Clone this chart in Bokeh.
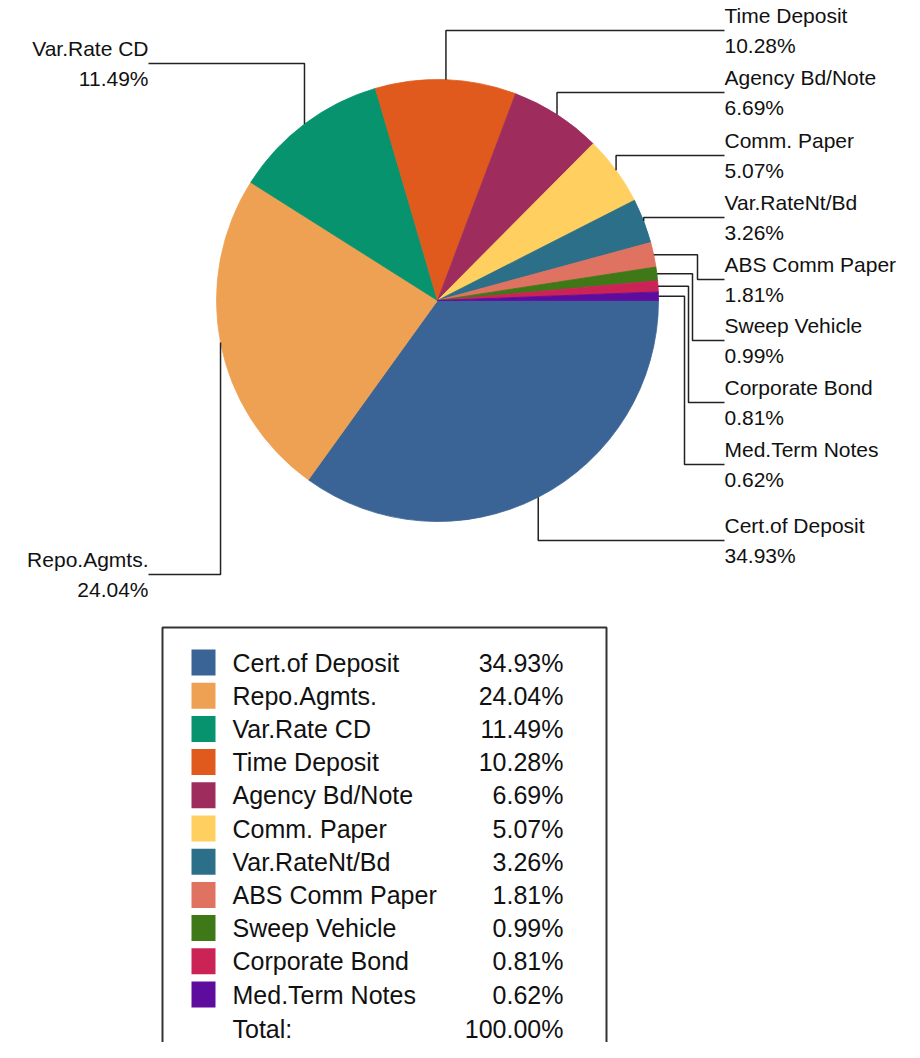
import numpy as np
from bokeh.plotting import figure
from bokeh.models import Range1d, ColumnDataSource
from bokeh.core.properties import value
from bokeh.embed import file_html
from bokeh.resources import INLINE

# ---- data ----
categories = ["Cert.of Deposit", "Repo.Agmts.", "Var.Rate CD", "Time Deposit",
              "Agency Bd/Note", "Comm. Paper", "Var.RateNt/Bd", "ABS Comm Paper",
              "Sweep Vehicle", "Corporate Bond", "Med.Term Notes"]
percents = [34.93, 24.04, 11.49, 10.28, 6.69, 5.07, 3.26, 1.81, 0.99, 0.81, 0.62]
colors = ["#3B6496", "#EFA153", "#07936E", "#E05A1D", "#9E2D5E", "#FFCF5F",
          "#2B7088", "#E07262", "#3E7817", "#CC2356", "#5E0C9E"]
total_label = "Total:"
total_value = 100.00

# ---- layout (picture pixel coordinates) ----
W, H = 904, 1042
CX, CY, R = 437, 300, 221
FONT = value("Liberation Sans")
TXT = "#111111"
LINE = "#222222"
label_side = ["R", "L", "L", "R", "R", "R", "R", "R", "R", "R", "R"]
label_line_y = [540, 574, 63, 30, 92, 155, 217, 279, 340, 402, 464]
elbow_x = [None, None, None, None, None, None, None, 697, 692, 688, 684]
RIGHT_X, LEFT_X = 724, 148

def Y(py):
    return -py

p = figure(width=W, height=H, output_backend="svg", toolbar_location=None,
           x_range=Range1d(0, W), y_range=Range1d(-H, 0),
           min_border=0, min_border_left=0, min_border_right=0,
           min_border_top=0, min_border_bottom=0)
p.axis.visible = False
p.grid.visible = False
p.outline_line_color = None
p.background_fill_color = "white"

vals = np.array(percents, dtype=float)
frac = vals / vals.sum()
cum = np.cumsum(frac)
start = cum - frac
src = ColumnDataSource(dict(
    start=-cum * 2 * np.pi, end=-start * 2 * np.pi, color=colors))
p.wedge(x=CX, y=Y(CY), radius=R, start_angle="start", end_angle="end",
        direction="anticlock", fill_color="color", line_color="color",
        line_width=0.8, source=src)

# leader lines + labels
mid = -(start + frac / 2) * 2 * np.pi
ax = CX + R * np.cos(mid)
ay = Y(CY) + R * np.sin(mid)
xs, ys = [], []
nx, ny, nt, nal = [], [], [], []
for i in range(len(categories)):
    ex = ax[i] if elbow_x[i] is None else elbow_x[i]
    lx = RIGHT_X if label_side[i] == "R" else LEFT_X
    ly = Y(label_line_y[i])
    xs.append([ax[i], ex, ex, lx])
    ys.append([ay[i], ay[i], ly, ly])
    al = "left" if label_side[i] == "R" else "right"
    nx += [lx, lx]
    ny += [ly + 15, ly - 15]
    nt += [categories[i], f"{percents[i]:.2f}%"]
    nal += [al, al]
p.multi_line(xs=xs, ys=ys, line_color=LINE, line_width=1.5)
p.text(x=nx, y=ny, text=nt, text_align=nal, text_baseline="middle",
       text_font=FONT, text_font_size="21px", text_color=TXT)

# legend box
p.quad(left=162, right=606, top=Y(627), bottom=Y(1070), fill_color="white",
       line_color="#333333", line_width=2)
ROW0, PITCH = 662, 33.2
row_y = [Y(ROW0 + i * PITCH) for i in range(len(categories))]
p.rect(x=[203] * len(categories), y=row_y, width=24, height=26,
       fill_color=colors, line_color=None)
p.text(x=[232] * len(categories), y=row_y, text=categories, text_align="left",
       text_baseline="middle", text_font=FONT, text_font_size="25px",
       text_color=TXT)
p.text(x=[563] * len(categories), y=row_y, text=[f"{v:.2f}%" for v in percents],
       text_align="right", text_baseline="middle", text_font=FONT,
       text_font_size="25px", text_color=TXT)
ty = Y(ROW0 + len(categories) * PITCH + 1)
p.text(x=[232], y=[ty], text=[total_label], text_align="left",
       text_baseline="middle", text_font=FONT, text_font_size="25px", text_color=TXT)
p.text(x=[563], y=[ty], text=[f"{total_value:.2f}%"], text_align="right",
       text_baseline="middle", text_font=FONT, text_font_size="25px", text_color=TXT)

open("out.html", "w").write(file_html(p, INLINE))
